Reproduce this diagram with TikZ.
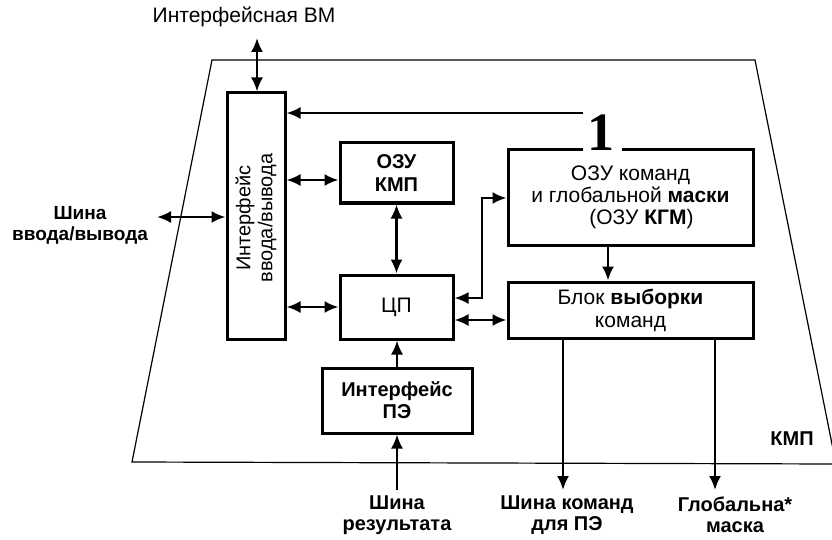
\documentclass[tikz,border=0pt]{standalone}
\usepackage{fontspec}
\setmainfont{Liberation Sans}
\newfontfamily\serifone{Liberation Serif}
\usetikzlibrary{arrows.meta}
\tikzset{
  blk/.style={draw, line width=3pt, rectangle, align=center, inner sep=0pt,
    font=\fontsize{20}{22}\selectfont},
  lbl/.style={align=center, inner sep=0pt, font=\fontsize{20}{21}\selectfont\bfseries},
  arr/.style={line width=2.2pt, -{Latex[length=14pt,width=12pt]}},
  darr/.style={line width=2.2pt, {Latex[length=14pt,width=12pt]}-{Latex[length=14pt,width=12pt]}},
  frame/.style={line width=1.2pt}
}
\begin{document}
\begin{tikzpicture}[x=1pt,y=-1pt]
\clip (0,0) rectangle (832,540);
\useasboundingbox (0,0) rectangle (832,540);
% outer trapezoid (KMP)
\draw[frame] (132,462) -- (212,60) -- (755,60) -- (836,464) -- cycle;

% blocks
\node[blk, minimum width=58, minimum height=246] (io) at (256,216) {};
\node[align=center, inner sep=0pt, rotate=90, font=\fontsize{20}{22}\selectfont] (iotext) at (256,218) {Интерфейс\\ввода/вывода};
\node[blk, minimum width=113, minimum height=60, font=\fontsize{20}{23}\selectfont\bfseries] (kmp) at (396.5,173) {ОЗУ\\КМП};
\node[blk, minimum width=113, minimum height=64, font=\fontsize{21}{23}\selectfont] (cp) at (396.5,307) {ЦП};
\node[blk, minimum width=150, minimum height=65, font=\fontsize{20}{22}\selectfont\bfseries] (pe) at (397,400.5) {Интерфейс\\ПЭ};
\node[blk, minimum width=245, minimum height=95, font=\fontsize{21}{22}\selectfont] (kgm) at (630.5,197.5) {ОЗУ команд\\и глобальной \textbf{маски}\\\hspace*{22pt}(ОЗУ \textbf{КГМ})};
\node[blk, minimum width=245, minimum height=56, font=\fontsize{21}{23}\selectfont] (bv) at (630.5,310) {Блок \textbf{выборки}\\команд};

% label "1"
\fill[white] (583,144) rectangle (622,158);
\node[inner sep=0pt, font=\serifone\bfseries\fontsize{54}{54}\selectfont] (one) at (601,133) {1};
\coordinate (fb) at (583,113);

% outer labels
\node[lbl, font=\fontsize{21}{22}\selectfont] (vm) at (244,17) {Интерфейсная ВМ};
\coordinate (vmc) at (257,38);
\node[lbl, font=\fontsize{19}{21}\selectfont\bfseries] (ioBus) at (80,225) {Шина\\ввода/вывода};
\coordinate (ioc) at (157,217);
\node[lbl] (resBus) at (397,515) {Шина\\результата};
\coordinate (rc) at (397,490);
\node[lbl] (cmdBus) at (567,515) {Шина команд\\для ПЭ};
\coordinate (o1) at (563,490);
\node[lbl] (gm) at (735,515) {Глобальна*\\маска};
\coordinate (o2) at (715,490);
\node[lbl] (kmpl) at (792,439) {КМП};

% connectors
\draw[darr] (vmc) -- (io.north -| vmc);
\draw[darr] (ioc) -- (io.west |- ioc);
\draw[arr] (fb) -- (io.east |- fb);
\draw[darr] (io.east |- 0,180) -- (kmp.west |- 0,180);
\draw[darr] (io.east |- 0,307) -- (cp.west |- 0,307);
\draw[darr] (kmp.south) -- (cp.north);
\draw[arr] (pe.north) -- (cp.south -| pe.north);
\draw[arr] (rc) -- (pe.south -| rc);
\coordinate (j1) at (482,298);
\coordinate (j2) at (482,198);
\draw[darr] (cp.east |- j1) -- (j1) -- (j2) -- (kgm.west |- j2);
\draw[darr] (cp.east |- 0,320) -- (bv.west |- 0,320);
\draw[arr] (kgm.south -| 608,0) -- (bv.north -| 608,0);
\draw[arr] (bv.south -| o1) -- (o1);
\draw[arr] (bv.south -| o2) -- (o2);
\end{tikzpicture}
\end{document}
